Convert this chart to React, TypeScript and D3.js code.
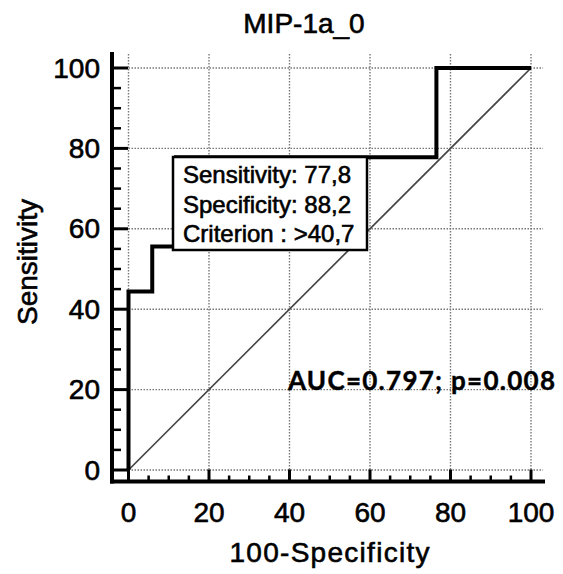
import * as d3 from 'd3';
import React from 'react';

// ROC curve points (100-Specificity, Sensitivity)
const rocFpr = [0, 0, 5.9, 5.9, 11.8, 11.8, 76.5, 76.5, 100];
const rocTpr = [0, 44.4, 44.4, 55.6, 55.6, 77.8, 77.8, 100, 100];
const majorTicks = [0, 20, 40, 60, 80, 100];
const minorTicks = [5, 10, 15, 25, 30, 35, 45, 50, 55, 65, 70, 75, 85, 90, 95];
const boxLines = ['Sensitivity: 77,8', 'Specificity: 88,2', 'Criterion : >40,7'];
const title = 'MIP-1a_0';
const xTitle = '100-Specificity';
const yTitle = 'Sensitivity';
const aucLabel = 'AUC=0.797; p=0.008';

const W = 563;
const H = 574;
const FONT = '"Liberation Sans", Arial, sans-serif';
// the source is a soft, slightly heavy raster: thicken text a little
const heavy = { stroke: '#000', strokeWidth: 0.6 };

export default function App() {
  const x = d3.scaleLinear().domain([0, 100]).range([128.5, 531]);
  const y = d3.scaleLinear().domain([0, 100]).range([470, 68]);

  const axisX = 112; // y-axis line position
  const axisY = 481.5; // x-axis line position
  const gridRight = x(103);
  const gridTop = y(103.5);

  const line = d3.line<number>()
    .x((_, i) => x(rocFpr[i]))
    .y(d => y(d));

  return (
    <svg width={W} height={H} style={{ position: 'absolute', left: 0, top: 0, background: '#fff' }}>
      {/* grid */}
      <g stroke='#777' strokeWidth={1.4} strokeDasharray='1.5,1.5'>
        {majorTicks.map(t => (
          <line key={'gx' + t} x1={x(t)} x2={x(t)} y1={gridTop} y2={y(0)} />
        ))}
        {majorTicks.map(t => (
          <line key={'gy' + t} x1={x(0)} x2={gridRight} y1={y(t)} y2={y(t)} />
        ))}
      </g>

      {/* diagonal reference */}
      <line x1={x(0)} y1={y(0)} x2={x(100)} y2={y(100)} stroke='#444' strokeWidth={1.7} />

      {/* ROC curve */}
      <path d={line(rocTpr) || ''} fill='none' stroke='#000' strokeWidth={4} strokeLinejoin='miter' />

      {/* criterion box */}
      <rect x={173} y={157} width={194} height={93} fill='#fff' stroke='#000' strokeWidth={2.5} />
      {boxLines.map((s, i) => (
        <text key={s} x={183} y={183 + i * 29.5} fontFamily={FONT} fontSize={24} fill='#000' {...heavy}>{s}</text>
      ))}

      {/* y axis */}
      <line x1={axisX} x2={axisX} y1={52} y2={axisY + 2} stroke='#000' strokeWidth={4} />
      {majorTicks.map(t => (
        <line key={'ym' + t} x1={axisX} x2={axisX + 16} y1={y(t)} y2={y(t)} stroke='#000' strokeWidth={3} />
      ))}
      {minorTicks.map(t => (
        <line key={'yn' + t} x1={axisX} x2={axisX + 9} y1={y(t)} y2={y(t)} stroke='#000' strokeWidth={2.5} />
      ))}
      {majorTicks.map(t => (
        <text key={'yl' + t} x={100} y={y(t) + 9.5} textAnchor='end' fontFamily={FONT} fontSize={28} fill='#000' {...heavy}>{t}</text>
      ))}

      {/* x axis */}
      <line x1={axisX - 2} x2={545} y1={axisY} y2={axisY} stroke='#000' strokeWidth={4} />
      {majorTicks.map(t => (
        <line key={'xm' + t} x1={x(t)} x2={x(t)} y1={axisY} y2={axisY - 12} stroke='#000' strokeWidth={3} />
      ))}
      {minorTicks.map(t => (
        <line key={'xn' + t} x1={x(t)} x2={x(t)} y1={axisY} y2={axisY - 6} stroke='#000' strokeWidth={2.5} />
      ))}
      {majorTicks.map(t => (
        <text key={'xl' + t} x={x(t)} y={522} textAnchor='middle' fontFamily={FONT} fontSize={28} fill='#000' {...heavy}>{t}</text>
      ))}

      {/* titles */}
      <text x={304} y={33} textAnchor='middle' fontFamily={FONT} fontSize={28} fill='#000' {...heavy}>{title}</text>
      <text x={329.5} y={562} textAnchor='middle' fontFamily={FONT} fontSize={28} fill='#000' {...heavy}
        textLength={200} lengthAdjust='spacing'>{xTitle}</text>
      <text transform='translate(37,262) rotate(-90)' textAnchor='middle' fontFamily={FONT} fontSize={28} fill='#000' {...heavy}>{yTitle}</text>

      {/* AUC annotation */}
      <text x={288} y={390} fontFamily='Lato, "Open Sans", sans-serif' fontWeight='bold' fontSize={26} fill='#000'
        stroke='#000' strokeWidth={0.4} textLength={267} lengthAdjust='spacing'>{aucLabel}</text>
    </svg>
  );
}
